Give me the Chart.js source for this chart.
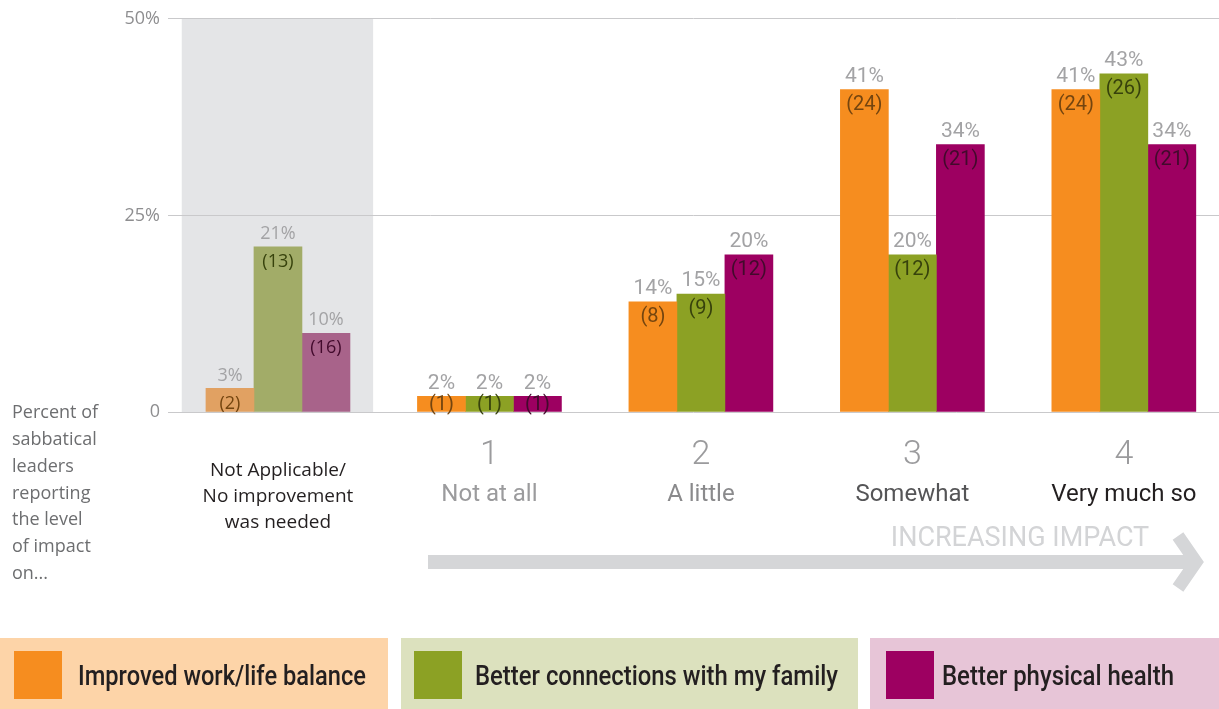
<!DOCTYPE html>
<html>
<head>
<meta charset="utf-8">
<script src="https://cdn.jsdelivr.net/npm/chart.js@4.4.1/dist/chart.umd.min.js"></script>
<style>
  html, body { margin: 0; padding: 0; background: #fff; overflow: hidden; }
  canvas { display: block; }
</style>
</head>
<body>
<canvas id="myChart" width="1219" height="709"></canvas>
<script>
// categories: first one is the "not applicable" column, then impact 1..4
const categories = ["Not Applicable/No improvement was needed", "1", "2", "3", "4"];
const impactWords = ["", "Not at all", "A little", "Somewhat", "Very much so"];
const naLines = ["Not Applicable/", "No improvement", "was needed"];

const seriesNames = ["Improved work/life balance", "Better connections with my family", "Better physical health"];

// percent of leaders
const workLife = [3, 2, 14, 41, 41];
const family = [21, 2, 15, 20, 43];
const health = [10, 2, 20, 34, 34];

// respondent counts shown in brackets
const workLifeN = [2, 1, 8, 24, 24];
const familyN = [13, 1, 9, 12, 26];
const healthN = [16, 1, 12, 21, 21];

const yTicks = [0, 25, 50];
const yTitle = ["Percent of", "sabbatical", "leaders", "reporting", "the level", "of impact", "on..."];

var colors = {
  orange: "#F68D1F", orangeMuted: "#E1A162", orangeBg: "#FDD4A8", orangeDark: "#74450F",
  green: "#8CA124", greenMuted: "#A2AC68", greenBg: "#DCE1BE", greenDark: "#37420C",
  magenta: "#9D0061", magentaMuted: "#A8638A", magentaBg: "#E7C5D7", magentaDark: "#420A2C",
};

function points(arr) {
  return arr.map((v, i) => ({ x: i, y: v }));
}

const data = {
  datasets: [
    {
      label: seriesNames[0],
      data: points(workLife),
      counts: workLifeN,
      backgroundColor: [colors.orangeMuted].concat(Array(4).fill(colors.orange)),
      legendColor: colors.orange,
      legendBg: colors.orangeBg,
      countColor: colors.orangeDark,
    },
    {
      label: seriesNames[1],
      data: points(family),
      counts: familyN,
      backgroundColor: [colors.greenMuted].concat(Array(4).fill(colors.green)),
      legendColor: colors.green,
      legendBg: colors.greenBg,
      countColor: colors.greenDark,
    },
    {
      label: seriesNames[2],
      data: points(health),
      counts: healthN,
      backgroundColor: [colors.magentaMuted].concat(Array(4).fill(colors.magenta)),
      legendColor: colors.magenta,
      legendBg: colors.magentaBg,
      countColor: colors.magentaDark,
    },
  ],
};

const DIN = "Roboto, 'DejaVu Sans', sans-serif";
const MYRIAD = "'Open Sans', 'Noto Sans', sans-serif";

// grey band behind the first column
const bandPlugin = {
  id: "na_band",
  beforeDraw: (chart) => {
    const { ctx, chartArea, scales } = chart;
    const x0 = scales.x.getPixelForValue(-0.455);
    const x1 = scales.x.getPixelForValue(0.45);
    ctx.save();
    ctx.fillStyle = "#E4E5E7";
    ctx.fillRect(x0, chartArea.top, x1 - x0, scales.y.getPixelForValue(0) - chartArea.top);
    ctx.restore();
  },
};

// percent above bar, count inside bar top
const labelPlugin = {
  id: "bar_labels",
  afterDatasetsDraw: (chart) => {
    const { ctx } = chart;
    const base = chart.scales.y.getPixelForValue(0);
    ctx.save();
    ctx.textAlign = "center";
    ctx.textBaseline = "middle";
    chart.data.datasets.forEach((ds, di) => {
      const meta = chart.getDatasetMeta(di);
      meta.data.forEach((bar, i) => {
        const v = ds.data[i].y;
        ctx.font = (i === 0 ? "400 18px " + MYRIAD : "400 21px " + DIN);
        ctx.fillStyle = "#A3A3A5";
        ctx.fillText(v + "%", bar.x, bar.y - 13, 44);
        ctx.font = (i === 0 ? "400 18px " + MYRIAD : "400 20px " + DIN);
        ctx.fillStyle = ds.countColor;
        ctx.fillText("(" + ds.counts[i] + ")", bar.x, Math.min(bar.y + 15, base - 7));
      });
    });
    ctx.restore();
  },
};

// x labels, axis title, arrow and legend
const decoPlugin = {
  id: "deco",
  afterDraw: (chart) => {
    const { ctx, scales } = chart;
    const x = scales.x;
    ctx.save();
    ctx.textAlign = "center";
    ctx.textBaseline = "middle";

    // not applicable label
    ctx.font = "400 19px " + MYRIAD;
    ctx.fillStyle = "#231F20";
    naLines.forEach((t, k) => ctx.fillText(t, x.getPixelForValue(0), 471 + k * 26));

    // impact numbers and words
    const wordColors = ["", "#9B9B9D", "#8A8A8C", "#555557", "#231F20"];
    for (let i = 1; i < categories.length; i++) {
      const px = x.getPixelForValue(i);
      ctx.font = "300 34px " + DIN;
      ctx.fillStyle = "#9B9B9D";
      ctx.fillText(categories[i], px, 455);
      ctx.font = "400 24px " + DIN;
      ctx.fillStyle = wordColors[i];
      ctx.fillText(impactWords[i], px, 495);
    }

    // y axis title
    ctx.textAlign = "left";
    ctx.font = "400 18px " + MYRIAD;
    ctx.fillStyle = "#6D6E70";
    yTitle.forEach((t, k) => ctx.fillText(t, 12, 413 + k * 26.8));

    // increasing impact arrow
    ctx.fillStyle = "#D5D6D8";
    ctx.strokeStyle = "#D5D6D8";
    ctx.fillRect(428, 555, 768, 14);
    ctx.lineWidth = 13;
    ctx.lineJoin = "miter";
    ctx.beginPath();
    ctx.moveTo(1178, 536);
    ctx.lineTo(1196, 562);
    ctx.lineTo(1178, 588);
    ctx.stroke();
    ctx.textAlign = "center";
    ctx.font = "400 27px " + DIN;
    ctx.fillStyle = "#D3D4D6";
    ctx.fillText("INCREASING IMPACT", 1020, 539, 262);

    // legend boxes
    const boxes = [
      { x: 0, w: 388, sw: 14, tx: 78, tw: 288 },
      { x: 401, w: 457, sw: 13, tx: 74, tw: 363 },
      { x: 870, w: 349, sw: 16, tx: 72, tw: 232 },
    ];
    ctx.textAlign = "left";
    chart.data.datasets.forEach((ds, di) => {
      const b = boxes[di];
      ctx.fillStyle = ds.legendBg;
      ctx.fillRect(b.x, 638, b.w, 71);
      ctx.fillStyle = ds.legendColor;
      ctx.fillRect(b.x + b.sw, 651, 48, 48);
      ctx.font = "500 28px " + DIN;
      ctx.fillStyle = "#231F20";
      ctx.fillText(ds.label, b.x + b.tx, 678, b.tw);
    });
    ctx.restore();
  },
};

const config = {
  type: "bar",
  data: data,
  plugins: [bandPlugin, labelPlugin, decoPlugin],
  options: {
    responsive: false,
    animation: false,
    layout: { padding: { top: 17, right: 0, left: 0, bottom: 0 } },
    datasets: {
      bar: { barThickness: 48, borderWidth: 0 },
    },
    plugins: {
      legend: { display: false },
      tooltip: { enabled: false },
    },
    scales: {
      x: {
        type: "linear",
        min: -0.52,
        max: 4.45,
        offset: false,
        grid: { display: false },
        border: { display: false },
        ticks: { display: false },
        afterFit: (scale) => { scale.height = 297; },
      },
      y: {
        min: 0,
        max: 50,
        afterBuildTicks: (scale) => { scale.ticks = yTicks.map((v) => ({ value: v })); },
        grid: { color: "#C9C9CB", lineWidth: 1, drawTicks: false },
        border: { display: false },
        ticks: {
          padding: 8,
          color: "#8E8E90",
          font: { family: "'Open Sans', sans-serif", size: 18 },
          callback: (v) => (v === 0 ? "0" : v + "%"),
        },
        afterFit: (scale) => { scale.width = 168; },
      },
    },
  },
};

var myChart = new Chart(document.getElementById("myChart"), config);
</script>
</body>
</html>
